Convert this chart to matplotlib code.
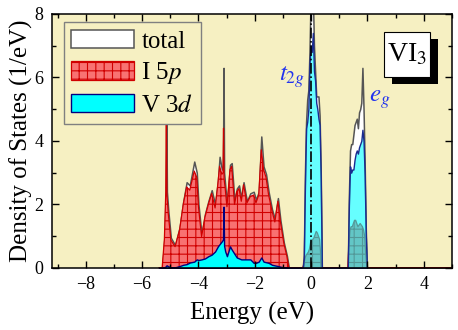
import numpy as np
import matplotlib.pyplot as plt
from matplotlib.patches import Rectangle
from matplotlib.ticker import MultipleLocator

plt.rcParams['font.family'] = ['Liberation Serif', 'DejaVu Serif']
plt.rcParams['mathtext.fontset'] = 'stix'
plt.rcParams['hatch.linewidth'] = 0.8

# valence band (I 5p dominated)
energy_vb = [-5.40, -5.29, -5.21, -5.16, -5.14, -5.12, -5.07, -4.98, -4.83, -4.67,
             -4.54, -4.42, -4.31, -4.15, -4.06, -4.00, -3.89, -3.77, -3.65, -3.53,
             -3.41, -3.31, -3.25, -3.17, -3.13, -3.11, -3.09, -3.05, -2.99, -2.88,
             -2.82, -2.72, -2.64, -2.56, -2.48, -2.40, -2.28, -2.16, -2.04, -1.96,
             -1.86, -1.77, -1.69, -1.60, -1.51, -1.39, -1.29, -1.18, -1.09, -0.97,
             -0.86, -0.79, -0.35]
i5p_vb = [0, 0, 0.9, 2.4, 5.0, 2.3, 1.7, 0.88, 0.67, 1.2,
          2.0, 2.55, 2.45, 3.05, 2.85, 1.93, 0.99, 1.6, 2.0, 2.35,
          1.89, 2.65, 3.2, 2.95, 3.0, 4.4, 2.8, 2.5, 1.93, 3.1,
          3.2, 2.0, 2.4, 2.5, 2.1, 2.62, 2.05, 2.25, 2.3, 2.05,
          2.3, 3.72, 3.1, 2.85, 2.3, 1.8, 1.45, 2.1, 1.45, 0.78,
          0.36, 0, 0]
v3d_vb = [0, 0, 0.02, 0.05, 0.08, 0.08, 0.05, 0.02, 0.02, 0.06,
          0.1, 0.12, 0.17, 0.2, 0.27, 0.25, 0.27, 0.3, 0.37, 0.42,
          0.52, 0.68, 0.75, 0.84, 0.9, 1.93, 0.7, 0.52, 0.37, 0.68,
          0.58, 0.44, 0.33, 0.3, 0.27, 0.27, 0.27, 0.27, 0.16, 0.16,
          0.2, 0.33, 0.2, 0.18, 0.16, 0.1, 0.08, 0.06, 0.04, 0.02,
          0.01, 0, 0]
total_vb = [0, 0, 0.95, 2.5, 5.1, 2.4, 1.8, 0.95, 0.72, 1.28,
            2.1, 2.7, 2.6, 3.35, 3.0, 2.0, 1.05, 1.7, 2.1, 2.45,
            2.0, 2.75, 3.5, 3.1, 3.2, 6.3, 3.0, 2.6, 2.0, 3.25,
            3.3, 2.1, 2.5, 2.6, 2.2, 2.7, 2.1, 2.35, 2.4, 2.15,
            2.4, 4.14, 3.2, 2.95, 2.4, 1.85, 1.55, 2.2, 1.5, 0.8,
            0.38, 0, 0]

# V t2g peak
energy_t2g = [-0.30, -0.26, -0.22, -0.18, -0.14, -0.10, -0.06, -0.02, 0.02,
              0.06, 0.10, 0.14, 0.18, 0.22, 0.26, 0.30, 0.34, 0.38]
v3d_t2g = [0, 0.3, 2.6, 4.4, 4.6, 5.0, 6.4, 7.0, 6.8,
           7.4, 6.2, 5.9, 5.2, 5.0, 4.7, 4.5, 2.8, 0]
total_t2g = [0, 0.4, 3.0, 4.6, 5.3, 5.6, 6.8, 8.5, 9.0,
             8.6, 7.0, 6.2, 5.4, 5.4, 5.4, 4.8, 3.0, 0]
i5p_t2g = [0, 0.1, 0.3, 0.4, 0.45, 0.5, 0.6, 0.8, 0.85,
           0.9, 0.95, 1.05, 1.15, 1.1, 1.0, 0.9, 0.4, 0]

# V eg peak
energy_eg = [1.30, 1.34, 1.38, 1.42, 1.46, 1.50, 1.54, 1.58, 1.62,
             1.66, 1.70, 1.74, 1.78, 1.82, 1.86, 1.90, 1.94, 1.98]
v3d_eg = [0, 2.0, 3.2, 3.0, 3.1, 3.1, 3.4, 3.6, 3.7,
          3.6, 3.8, 3.9, 4.0, 4.35, 4.0, 2.9, 1.0, 0]
total_eg = [0, 2.3, 3.7, 3.9, 3.9, 4.2, 4.5, 4.6, 4.7,
            4.4, 4.9, 5.0, 5.2, 6.3, 5.0, 3.3, 1.2, 0]
i5p_eg = [0, 0.7, 1.2, 1.3, 1.3, 1.4, 1.5, 1.5, 1.4,
          1.3, 1.35, 1.4, 1.35, 1.3, 1.2, 1.0, 0.4, 0]

energy = np.concatenate([energy_vb, energy_t2g, energy_eg, [5.0]])
total = np.concatenate([total_vb, total_t2g, total_eg, [0]])
i5p = np.concatenate([i5p_vb, i5p_t2g, i5p_eg, [0]])
energy_cb = np.concatenate([energy_t2g, energy_eg])
v3d_cb = np.concatenate([v3d_t2g, v3d_eg])

bg = '#f6f0c2'
fig = plt.figure(figsize=(4.58, 3.30), dpi=100)
ax = fig.add_axes([0.1135, 0.188, 0.8734, 0.770])
ax.set_facecolor(bg)

ax.fill_between(energy, total, facecolor='white', edgecolor='#555555', lw=1.1, label='total')
ax.fill_between(energy, i5p, facecolor='#f87272', edgecolor='#d00000', hatch='++', lw=0.9,
                label='I 5$p$')
ax.fill_between(energy_vb, v3d_vb, facecolor='cyan', edgecolor='#000080', lw=1.0, label='V 3$d$')
ax.fill_between(energy_cb, v3d_cb, facecolor=(0, 1, 1, 0.6), edgecolor='#1a2a90', lw=1.0)
ax.axvline(0, color='black', ls='-.', lw=1.2)

ax.set_xlim(-9.2, 5.0)
ax.set_ylim(0, 8)
ax.xaxis.set_major_locator(MultipleLocator(2))
ax.xaxis.set_minor_locator(MultipleLocator(1))
ax.yaxis.set_major_locator(MultipleLocator(2))
ax.yaxis.set_minor_locator(MultipleLocator(1))
ax.tick_params(which='both', direction='in', top=True, right=True, labelsize=13, width=1.0)
ax.tick_params(which='major', length=5, pad=6)
ax.tick_params(which='minor', length=3)
for s in ax.spines.values():
    s.set_linewidth(1.1)

ax.set_xlabel('Energy (eV)', fontsize=18, labelpad=6)
ax.set_ylabel('Density of States (1/eV)', fontsize=18, labelpad=1)

ax.legend(loc='upper left', bbox_to_anchor=(0.03, 0.966), fontsize=18, handlelength=2.5,
          handleheight=0.75, labelspacing=0.3, handletextpad=0.3, borderpad=0.3,
          borderaxespad=0, fancybox=False, edgecolor='#808080', facecolor=bg, framealpha=1)

ax.text(-0.68, 6.0, '$t_{2g}$', color='#2233ee', fontsize=18, ha='center', va='center')
ax.text(2.42, 5.3, '$e_g$', color='#2233ee', fontsize=18, ha='center', va='center')

ax.add_patch(Rectangle((0.849, 0.723), 0.115, 0.178, transform=ax.transAxes,
                       facecolor='black', zorder=5))
ax.add_patch(Rectangle((0.83, 0.752), 0.115, 0.177, transform=ax.transAxes,
                       facecolor='white', edgecolor='black', lw=0.8, zorder=6))
ax.text(0.8875, 0.84, 'VI$_3$', transform=ax.transAxes, fontsize=20,
        ha='center', va='center', zorder=7)

fig.savefig('out.png', dpi=100)
